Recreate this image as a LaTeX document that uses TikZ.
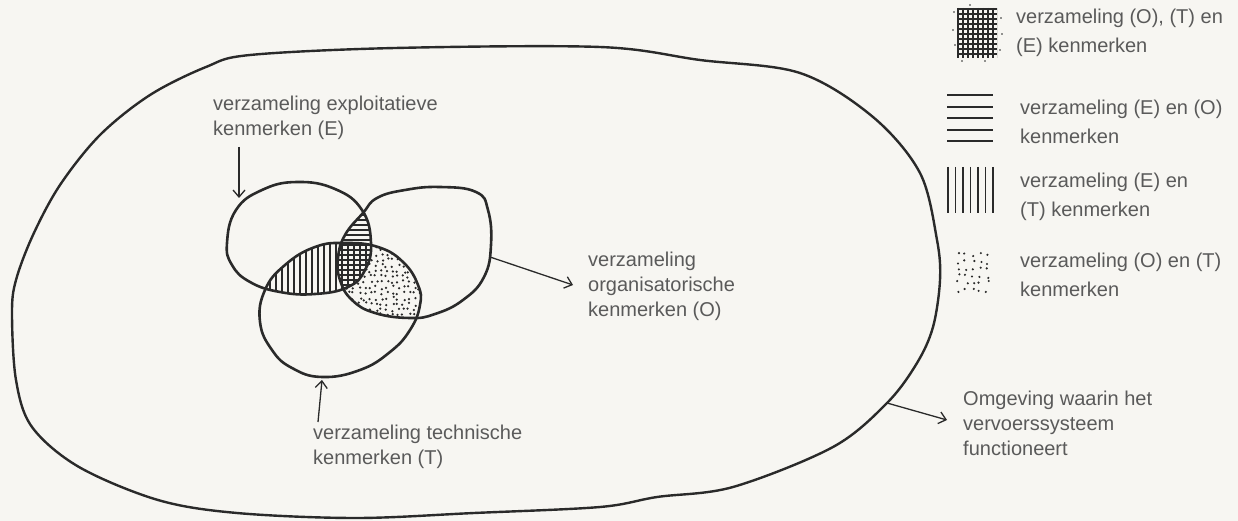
\documentclass[tikz,border=0pt]{standalone}
\usepackage{fontspec}
\setmainfont{Liberation Sans}
\usetikzlibrary{arrows.meta}
\definecolor{ink}{HTML}{2A2A2A}
\definecolor{txt}{HTML}{5A5A5A}
\definecolor{paper}{HTML}{F7F6F2}
\newcommand\shapeE{plot[smooth cycle, tension=0.75] coordinates {(227,243) (236,210) (262,190) (297,182) (335,189) (362,210) (371,243) (365,270) (348,287) (315,294) (280,292) (250,282) (232,265)}}
\newcommand\shapeO{plot[smooth cycle, tension=0.75] coordinates {(363,213) (377,198) (405,190) (440,187) (476,192) (488,210) (491,245) (484,277) (463,300) (435,314) (410,318) (375,313) (352,300) (340,280) (338,258) (345,235)}}
\newcommand\shapeT{plot[smooth cycle, tension=0.75] coordinates {(265,290) (285,265) (315,247) (345,243) (378,247) (403,262) (418,285) (420,305) (410,330) (390,352) (360,370) (322,377) (292,368) (272,350) (260,322)}}
\newcommand\shapeEnv{plot[smooth cycle, tension=0.55] coordinates {(16,280) (12,313) (16,380) (32,427) (79,467) (158,500) (237,513) (356,518) (474,513) (600,507) (657,497) (733,487) (833,447) (887,403) (917,363) (933,327) (940,280) (937,240) (920,173) (873,117) (800,73) (700,60) (600,47) (395,48) (250,55) (206,67) (150,95) (100,135) (60,185) (33,235)}}
\tikzset{
  outline/.style={draw=ink, line width=2.6pt},
  hatch/.style={draw=ink, line width=1.1pt},
  conn/.style={draw=ink, line width=1.3pt, -{Straight Barb[length=7pt,width=12pt,line width=1.3pt]}},
  lab/.style={text=txt, font=\fontsize{20}{25}\selectfont, align=left, inner sep=0pt, anchor=west},
  leglab/.style={text=txt, font=\fontsize{20}{29}\selectfont, align=left, inner sep=0pt, anchor=west},
  dot/.style={fill=ink}
}
\begin{document}
\begin{tikzpicture}[x=1pt,y=-1pt]
\pgfmathsetseed{11}
\fill[paper] (0,0) rectangle (1238,521);
% environment
\draw[outline, line width=2.4pt] \shapeEnv;
% dots in O and T, not E
\begin{scope}
  \clip \shapeO; \clip \shapeT;
  \foreach \x in {332,337.5,...,430}{\foreach \y in {238,243.5,...,326}{\fill[dot] ({\x+1.8*rand},{\y+1.8*rand}) circle (1.25);}}
  \fill[paper] \shapeE;
\end{scope}
% vertical hatch in E and T
\begin{scope}
  \clip \shapeE; \clip \shapeT;
  \foreach \x in {222,228,...,420}{\draw[hatch] (\x,230) -- (\x,300);}
\end{scope}
% horizontal hatch in E and O
\begin{scope}
  \clip \shapeE; \clip \shapeO;
  \foreach \y in {190,195,...,320}{\draw[hatch] (330,\y) -- (380,\y);}
\end{scope}
% outlines
\draw[outline] \shapeE;
\draw[outline] \shapeO;
\draw[outline] \shapeT;
% labels
\node[lab] (labE) at (213,117.5) {verzameling exploitatieve\\kenmerken (E)};
\node[lab] (labO) at (588,286) {verzameling\\organisatorische\\kenmerken (O)};
\node[lab] (labT) at (313,447) {verzameling technische\\kenmerken (T)};
\node[lab] (labEnv) at (963,423) {Omgeving waarin het\\vervoerssysteem\\functioneert};
% connectors
\coordinate (eTail) at (239,147); \coordinate (eTip) at (239,198);
\coordinate (oTail) at (490,257); \coordinate (oTip) at (573,285);
\coordinate (tTail) at (318,422); \coordinate (tTip) at (322,380);
\coordinate (envTail) at (887,403); \coordinate (envTip) at (947,420);
\draw[conn] (eTail) -- (eTip);
\draw[conn] (oTail) -- (oTip);
\draw[conn] (tTail) -- (tTip);
\draw[conn] (envTail) -- (envTip);
% legend
\begin{scope}
  \clip (957,8) rectangle (997,58);
  \foreach \x in {958,963,...,998}{\draw[ink, line width=2pt] (\x,8) -- (\x,58);}
  \foreach \y in {9,14,...,58}{\draw[ink, line width=2pt] (957,\y) -- (997,\y);}
\end{scope}
\foreach \p in {(954,12),(953,30),(955,45),(1001,18),(1002,34),(1000,50),(962,61),(985,61),(970,5)}{\fill[dot] \p circle (0.9);}
\foreach \y in {95,107,118,130,141}{\draw[ink, line width=1.6pt] (947,\y) -- (993,\y);}
\foreach \x in {948,955.5,...,993}{\draw[ink, line width=1.5pt] (\x,167) -- (\x,213);}
\foreach \x in {959,966,...,990}{\foreach \y in {255,262,...,292}{\fill[dot] ({\x+2*rand},{\y+2*rand}) circle (1.2);}}
\node[leglab] (leg1) at (1016,33) {verzameling (O), (T) en\\(E) kenmerken};
\node[leglab] (leg2) at (1020,122) {verzameling (E) en (O)\\kenmerken};
\node[leglab] (leg3) at (1020,197) {verzameling (E) en\\(T) kenmerken};
\node[leglab] (leg4) at (1020,275) {verzameling (O) en (T)\\kenmerken};
\end{tikzpicture}
\end{document}
